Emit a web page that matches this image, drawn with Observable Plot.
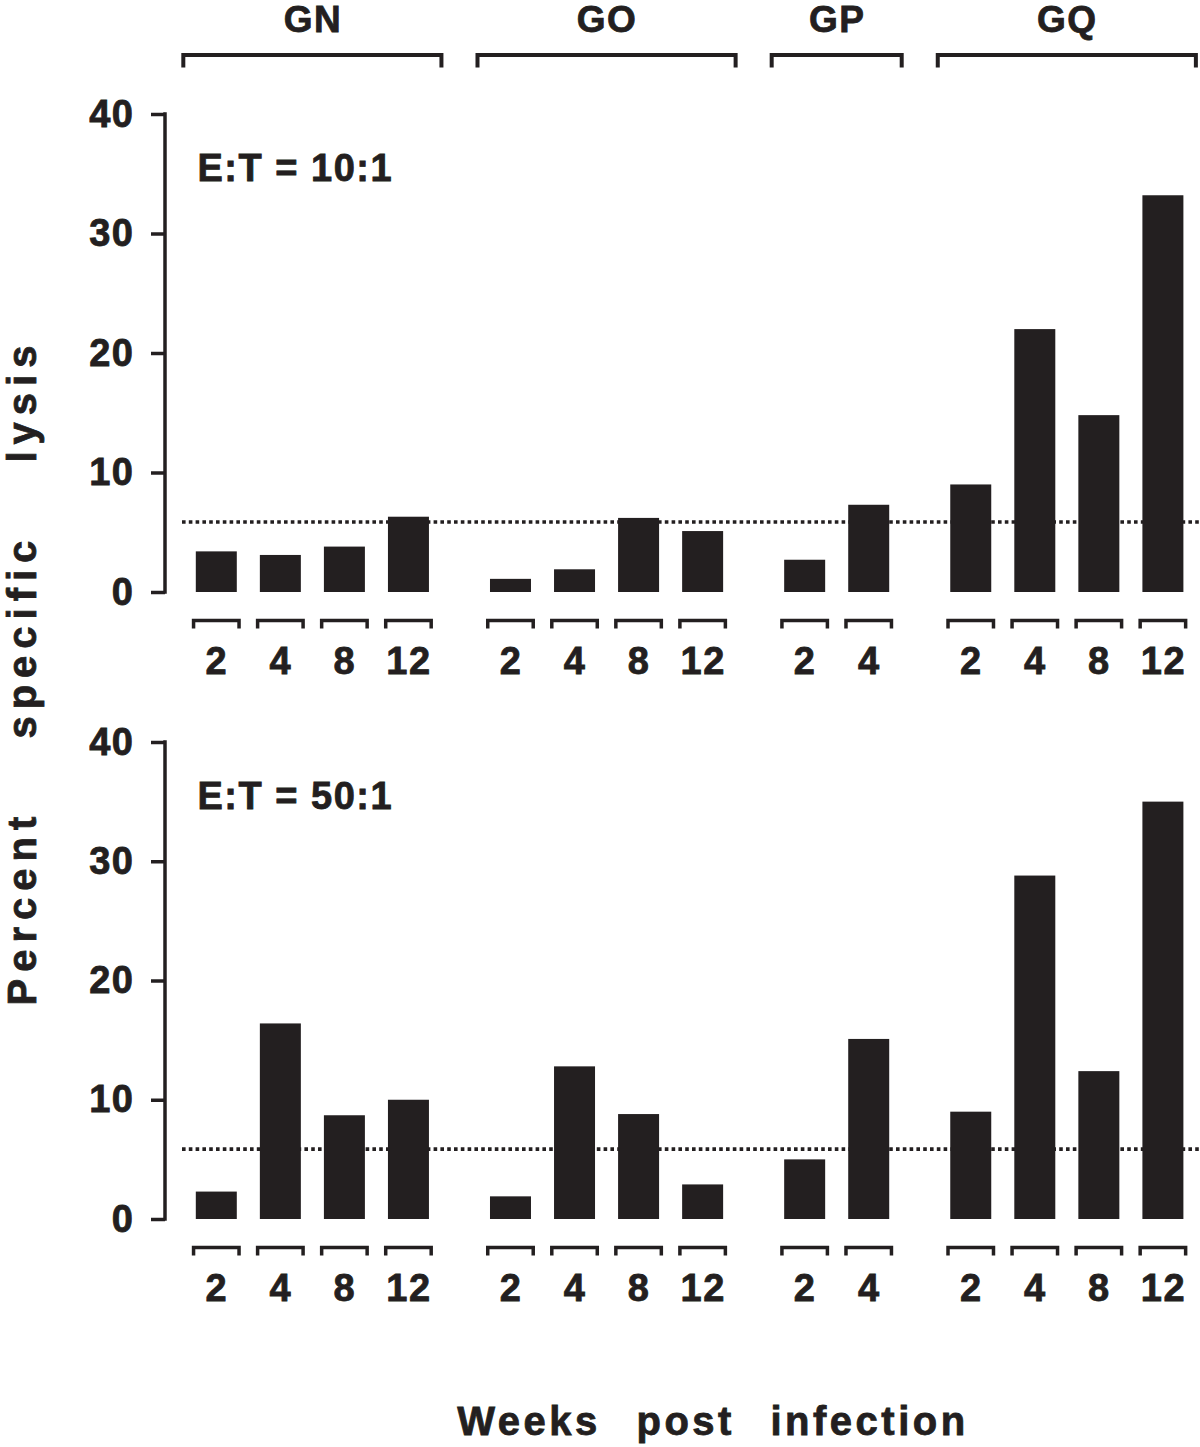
<!DOCTYPE html>
<html>
<head>
<meta charset="utf-8">
<script src="https://cdn.jsdelivr.net/npm/d3@7"></script>
<script src="https://cdn.jsdelivr.net/npm/@observablehq/plot@0.6"></script>
<style>
html, body { margin: 0; padding: 0; background: #fff; overflow: hidden; }
#wrap { position: relative; width: 1200px; height: 1447px; overflow: hidden; background: #fff; }
#wrap svg { display: block; }
#wrap svg text { stroke: #231f20; stroke-width: 0.8px; paint-order: stroke; }
.lab { position: absolute; font-family: "Liberation Sans", Arial, Helvetica, sans-serif; font-weight: bold; font-size: 40px; line-height: 40px; color: #231f20; white-space: nowrap; -webkit-text-stroke: 0.8px #231f20; }
#ylab { left: 22px; top: 672px; transform: translate(-50%, -50%) rotate(-90deg); letter-spacing: 7px; word-spacing: 53px; }
#xlab { left: 713px; top: 1401px; transform: translateX(-50%); letter-spacing: 3.5px; word-spacing: 21px; }
</style>
</head>
<body>
<div id="wrap">
  <div id="charts"></div>
  <div id="ylab" class="lab">Percent specific lysis</div>
  <div id="xlab" class="lab">Weeks post infection</div>
</div>
<script>
// ---- data ----
const groups = ["GN", "GO", "GP", "GQ"];
const weeks = [[2, 4, 8, 12], [2, 4, 8, 12], [2, 4], [2, 4, 8, 12]];
const panels = ["E:T = 10:1", "E:T = 50:1"];
const lysis10 = [3.4, 3.1, 3.8, 6.3,  1.1, 1.9, 6.2, 5.1,  2.7, 7.3,  9.0, 22.0, 14.8, 33.2];
const lysis50 = [2.3, 16.4, 8.7, 10.0,  1.9, 12.8, 8.8, 2.9,  5.0, 15.1,  9.0, 28.8, 12.4, 35.0];
const threshold = 5.9;
const yTicks = [0, 10, 20, 30, 40];

// ---- layout / style ----
const INK = "#231f20";
const FONT = "'Liberation Sans', Arial, Helvetica, sans-serif";
const GAP = 0.593;   // extra space between groups, in slots
const BAR = 0.32;    // half bar width, in slots
const TICKW = 0.355; // half width of bracket under each bar
const GRP = 0.515;   // group bracket overhang

const rows = [];
let slot = 0;
groups.forEach((g, gi) => weeks[gi].forEach(w => {
  rows.push({group: g, week: w, pos: slot + gi * GAP});
  slot++;
}));
const lastPos = rows[rows.length - 1].pos;
const groupRows = groups.map(g => {
  const r = rows.filter(d => d.group === g);
  const a = r[0].pos, b = r[r.length - 1].pos;
  return {group: g, lo: a - GRP, hi: b + GRP, mid: (a + b) / 2};
});

function brackets(items, anchorValue, offset, depth, sw) {
  return (index, scales) => {
    const g = d3.create("svg:g").attr("fill", "none").attr("stroke", INK).attr("stroke-width", sw);
    const y0 = scales.y(anchorValue) + offset;
    for (const it of items) {
      const x1 = scales.x(it.lo), x2 = scales.x(it.hi);
      g.append("path").attr("d", `M${x1},${y0 + depth}V${y0}H${x2}V${y0 + depth}`);
    }
    return g.node();
  };
}
function axisLine(index, scales, values, dims) {
  const top = d3.max(yTicks), bot = d3.min(yTicks);
  return d3.create("svg:line")
    .attr("x1", dims.marginLeft).attr("x2", dims.marginLeft)
    .attr("y1", scales.y(bot) + 1.75).attr("y2", scales.y(top) - 1.75)
    .attr("stroke", INK).attr("stroke-width", 3.5).node();
}

function chart(values, label, {height, marginTop, marginBottom, top}) {
  const data = rows.map((d, i) => ({...d, value: values[i]}));
  return Plot.plot({
    width: 1200, height, marginLeft: 165, marginRight: 0, marginTop, marginBottom,
    style: {fontFamily: FONT, fontWeight: "bold", color: INK, background: "transparent", overflow: "visible", letterSpacing: "1.5px"},
    x: {type: "linear", domain: [0, lastPos], range: [216.3, 1162.9], axis: null},
    y: {type: "linear", domain: [d3.min(yTicks), d3.max(yTicks)]},
    marks: [
      Plot.ruleY([threshold], {stroke: INK, strokeWidth: 3.6, strokeDasharray: "3.6,3.2", insetLeft: 17}),
      Plot.rect(data, {x1: d => d.pos - BAR, x2: d => d.pos + BAR, y1: 0, y2: "value", fill: INK}),
      Plot.axisY({ticks: yTicks, tickSize: 14, tickPadding: 17, strokeWidth: 3.5, fontSize: 38, label: null, tickFormat: d => String(d)}),
      axisLine,
      brackets(data.map(d => ({lo: d.pos - TICKW, hi: d.pos + TICKW})), 0, 28.5, 8, 3.5),
      Plot.text(data, {x: "pos", y: 0, text: d => String(d.week), dy: 69, fontSize: 38, fill: INK, lineAnchor: "middle"}),
      Plot.text([label], {frameAnchor: "top-left", dx: 32, dy: 54, text: d => d, textAnchor: "start", lineAnchor: "middle", fontSize: 38, fill: INK}),
      ...(top ? [
        brackets(groupRows, d3.max(yTicks), -59, 12.5, 4),
        Plot.text(groupRows, {x: "mid", y: d3.max(yTicks), text: "group", dy: -94, fontSize: 37, fill: INK, lineAnchor: "middle"})
      ] : [])
    ]
  });
}

const host = document.getElementById("charts");
host.appendChild(chart(lysis10, panels[0], {height: 700, marginTop: 114, marginBottom: 108, top: true}));
host.appendChild(chart(lysis50, panels[1], {height: 747, marginTop: 42, marginBottom: 228, top: false}));
</script>
</body>
</html>
